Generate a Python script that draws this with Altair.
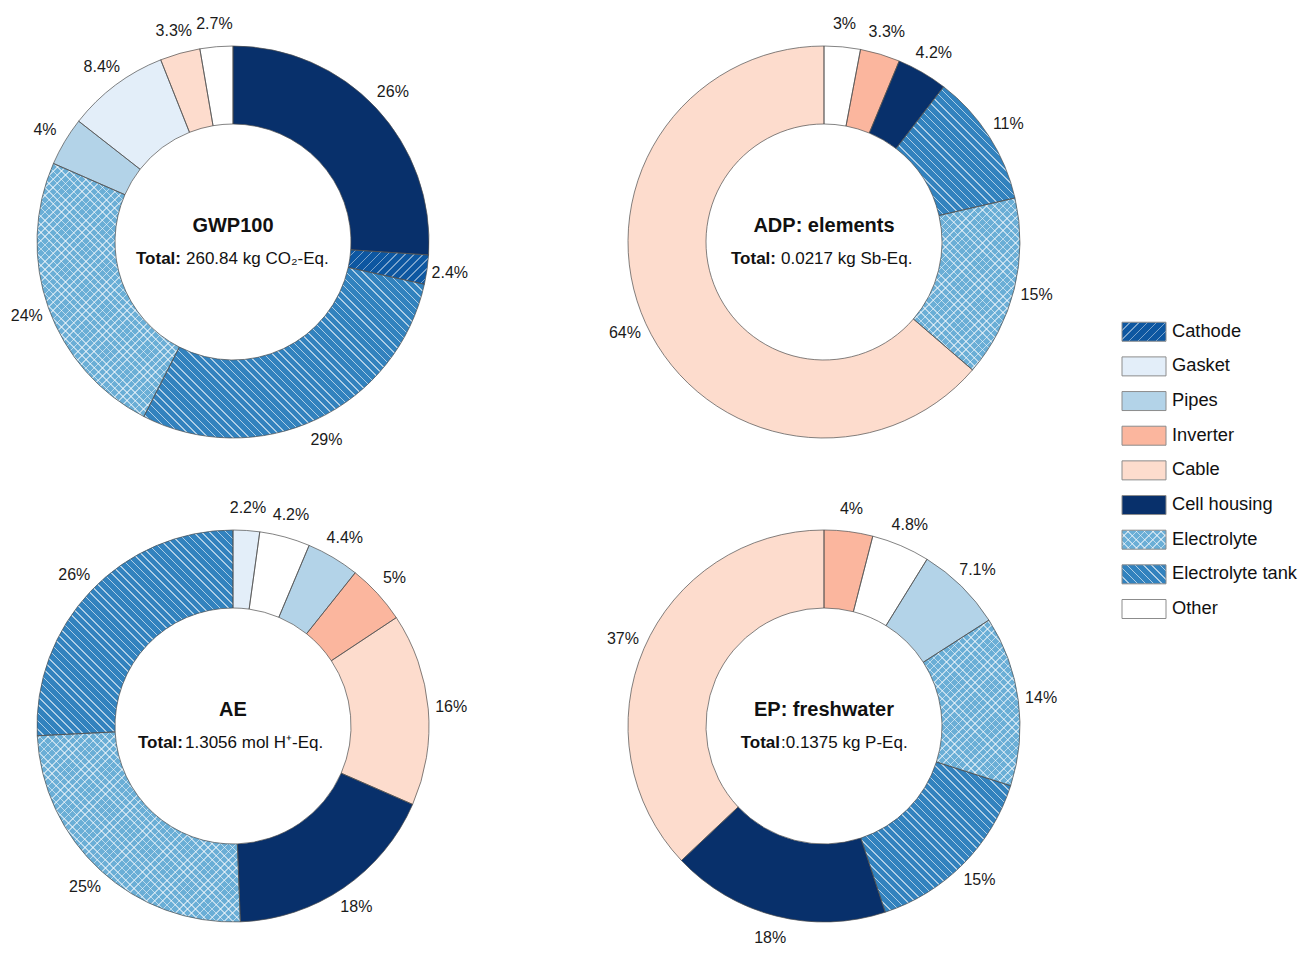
import math
import altair as alt
import pandas as pd

# ---------------- data ----------------
categories = ["Cathode", "Gasket", "Pipes", "Inverter", "Cable",
              "Cell housing", "Electrolyte", "Electrolyte tank", "Other"]
category_colors = ["#0d57a1", "#e3eef9", "#b3d3e8", "#fbb69e", "#fddccd",
                   "#08306b", "#6aaed6", "#3282be", "#ffffff"]

panels = ["GWP100", "ADP: elements", "AE", "EP: freshwater"]
panel_col = [0, 1, 0, 1]
panel_row = [0, 0, 1, 1]
total_bold = ["Total:", "Total:", "Total:", "Total"]
total_rest = ["260.84 kg CO₂-Eq.", "0.0217 kg Sb-Eq.", "1.3056 mol H⁺-Eq.", ":0.1375 kg P-Eq."]

gwp_parts = ["Cell housing", "Cathode", "Electrolyte tank", "Electrolyte", "Pipes", "Gasket", "Cable", "Other"]
gwp_share = [26, 2.4, 29, 24, 4, 8.4, 3.3, 2.7]
adp_parts = ["Other", "Inverter", "Cell housing", "Electrolyte tank", "Electrolyte", "Cable"]
adp_share = [3, 3.3, 4.2, 11, 15, 64]
ae_parts = ["Gasket", "Other", "Pipes", "Inverter", "Cable", "Cell housing", "Electrolyte", "Electrolyte tank"]
ae_share = [2.2, 4.2, 4.4, 5, 16, 18, 25, 26]
ep_parts = ["Inverter", "Other", "Pipes", "Electrolyte", "Electrolyte tank", "Cell housing", "Cable"]
ep_share = [4, 4.8, 7.1, 14, 15, 18, 37]

panel_parts = [gwp_parts, adp_parts, ae_parts, ep_parts]
panel_share = [gwp_share, adp_share, ae_share, ep_share]

# ---------------- styles / layout ----------------
FONT = "Liberation Sans"
R_IN, R_OUT, R_LAB = 118, 196, 219
CX = [225, 816]
CY = [234, 718]
total_split = [-52, -48, -50, -44]
total_gap = [5, 5, 2, 1]
hatch_dirs = {"Cathode": ["/"], "Electrolyte tank": ["\\"], "Electrolyte": ["/", "\\"]}
hatch_line = {"Cathode": "rgba(255,255,255,0.45)", "Electrolyte tank": "rgba(255,255,255,0.6)",
              "Electrolyte": "rgba(255,255,255,0.55)"}
hatch_period = {"Cathode": 6.3, "Electrolyte tank": 5.8, "Electrolyte": 5.8}

rows = []
for p, c, r, parts, shares in zip(panels, panel_col, panel_row, panel_parts, panel_share):
    for k, (cat, v) in enumerate(zip(parts, shares)):
        rows.append({"panel": p, "col": c, "row": r, "k": k, "cat": cat, "pct": v})
df = pd.DataFrame(rows)
df_p = pd.DataFrame({"panel": panels, "col": panel_col, "row": panel_row,
                     "bold": total_bold, "rest": total_rest})
df_leg = pd.DataFrame({"cat": categories})


def hatch_gradient(w, h, direction, line, period, lw=1.1, bg="rgba(255,255,255,0)"):
    s = w + h
    d = w * w + h * h
    gx, gy = w * s / d, h * s / d
    if direction == "/":
        x1, y1, x2, y2 = 0, 0, gx, gy
    else:
        x1, y1, x2, y2 = 0, 1, gx, 1 - gy
    dt = period * math.sqrt(2) / s
    lt = lw * math.sqrt(2) / s
    stops = []
    t = 0.0
    while t < 1:
        a = min(t + dt - lt, 1.0)
        b = min(t + dt, 1.0)
        stops += [{"offset": round(t, 5), "color": bg}, {"offset": round(a, 5), "color": bg},
                  {"offset": round(a, 5), "color": line}, {"offset": round(b, 5), "color": line}]
        t += dt
    return {"gradient": "linear", "x1": x1, "y1": y1, "x2": round(x2, 5), "y2": round(y2, 5),
            "stops": stops}


def sector_size(a0, a1, r0, r1, n=400):
    xs, ys = [], []
    for i in range(n + 1):
        a = a0 + (a1 - a0) * i / n
        for r in (r0, r1):
            xs.append(r * math.sin(a))
            ys.append(-r * math.cos(a))
    return max(xs) - min(xs), max(ys) - min(ys)


def prep(ch):
    return (ch.transform_joinaggregate(tot="sum(pct)", groupby=["panel"])
              .transform_window(cum="sum(pct)", groupby=["panel"],
                                sort=[alt.SortField("k", order="ascending")], frame=[None, 0])
              .transform_calculate(t0="(datum.cum - datum.pct) / datum.tot",
                                   t1="datum.cum / datum.tot",
                                   tm="(2 * datum.cum - datum.pct) / (2 * datum.tot)",
                                   label="datum.pct + '%'"))


X = alt.X("col:Q", scale=alt.Scale(domain=[0, 1], range=CX, nice=False, zero=False), axis=None)
Y = alt.Y("row:Q", scale=alt.Scale(domain=[0, 1], range=CY, nice=False, zero=False), axis=None)
TSCALE = alt.Scale(domain=[0, 1], range=[0, 2 * math.pi])
TH = alt.Theta("t0:Q", scale=TSCALE, stack=None)
TH2 = alt.Theta2("t1:Q")
COLOR = alt.Color("cat:N", scale=alt.Scale(domain=categories, range=category_colors), legend=None)

base = prep(alt.Chart(df)).mark_arc(innerRadius=R_IN, outerRadius=R_OUT, strokeWidth=0).encode(
    x=X, y=Y, theta=TH, theta2=TH2, color=COLOR)

overlays = []
for p, parts, shares in zip(panels, panel_parts, panel_share):
    tot = sum(shares)
    cum = 0
    for cat, v in zip(parts, shares):
        a0 = cum / tot * 2 * math.pi
        cum += v
        a1 = cum / tot * 2 * math.pi
        if cat in hatch_dirs:
            w, h = sector_size(a0, a1, R_IN, R_OUT)
            for dirn in hatch_dirs[cat]:
                g = hatch_gradient(w, h, dirn, hatch_line[cat], hatch_period[cat])
                overlays.append(
                    prep(alt.Chart(df))
                    .transform_filter(f"datum.panel == '{p}' && datum.cat == '{cat}'")
                    .mark_arc(innerRadius=R_IN, outerRadius=R_OUT, fill=g, strokeWidth=0)
                    .encode(x=X, y=Y, theta=TH, theta2=TH2))

outline = prep(alt.Chart(df)).mark_arc(innerRadius=R_IN, outerRadius=R_OUT, fill="white",
                                       fillOpacity=0, stroke="#4d4d4d", strokeWidth=0.7).encode(
    x=X, y=Y, theta=TH, theta2=TH2)

labels = prep(alt.Chart(df)).mark_text(radius=R_LAB, font=FONT, fontSize=16, color="#1a1a1a").encode(
    x=X, y=Y, theta=alt.Theta("tm:Q", scale=TSCALE, stack=None), text="label:N")

titles = alt.Chart(df_p).mark_text(font=FONT, fontSize=20, fontWeight="bold", dy=-16,
                                   color="#111111").encode(x=X, y=Y, text="panel:N")

totals = []
for p, sp, gp in zip(panels, total_split, total_gap):
    sub = alt.Chart(df_p).transform_filter(f"datum.panel == '{p}'")
    totals.append(sub.mark_text(font=FONT, fontSize=17, fontWeight="bold", align="right",
                                dx=sp, dy=17, color="#111111").encode(x=X, y=Y, text="bold:N"))
    totals.append(sub.mark_text(font=FONT, fontSize=17, align="left",
                                dx=sp + gp, dy=17, color="#111111").encode(x=X, y=Y, text="rest:N"))

arcs_group = alt.layer(base, *overlays, outline, labels, titles, *totals)

# ---------------- legend ----------------
LEG_STEP = 34.66
LEG_PI = 0.452
LY = alt.Y("cat:N", scale=alt.Scale(domain=categories, range=[306.4, 306.4 + 9 * LEG_STEP],
                                    paddingInner=LEG_PI, paddingOuter=LEG_PI / 2), axis=None)
LX0, LX1, LXT = 1114, 1158, 1164
band_h = LEG_STEP * (1 - LEG_PI)

leg_rect = alt.Chart(df_leg).mark_rect(strokeWidth=0).encode(
    x=alt.value(LX0), x2=alt.value(LX1), y=LY, color=COLOR)
leg_over = []
for cat, dirs in hatch_dirs.items():
    for dirn in dirs:
        g = hatch_gradient(LX1 - LX0, band_h, dirn, hatch_line[cat], hatch_period[cat])
        leg_over.append(alt.Chart(df_leg).transform_filter(f"datum.cat == '{cat}'")
                        .mark_rect(fill=g, strokeWidth=0)
                        .encode(x=alt.value(LX0), x2=alt.value(LX1), y=LY))
leg_outline = alt.Chart(df_leg).mark_rect(fill="white", fillOpacity=0, stroke="#8c8c8c",
                                          strokeWidth=1).encode(x=alt.value(LX0), x2=alt.value(LX1), y=LY)
leg_text = alt.Chart(df_leg).mark_text(font=FONT, fontSize=18.3, align="left", baseline="middle",
                                       color="#111111").encode(x=alt.value(LXT), y=LY, text="cat:N")
legend_group = alt.layer(leg_rect, *leg_over, leg_outline, leg_text)

chart = (alt.layer(arcs_group, legend_group)
         .resolve_scale(x="independent", y="independent")
         .properties(width=1293, height=937, padding=0,
                     autosize=alt.AutoSizeParams(type="none"))
         .configure_view(strokeWidth=0))

chart.save("out.html", embed_options={"renderer": "svg", "actions": False})
